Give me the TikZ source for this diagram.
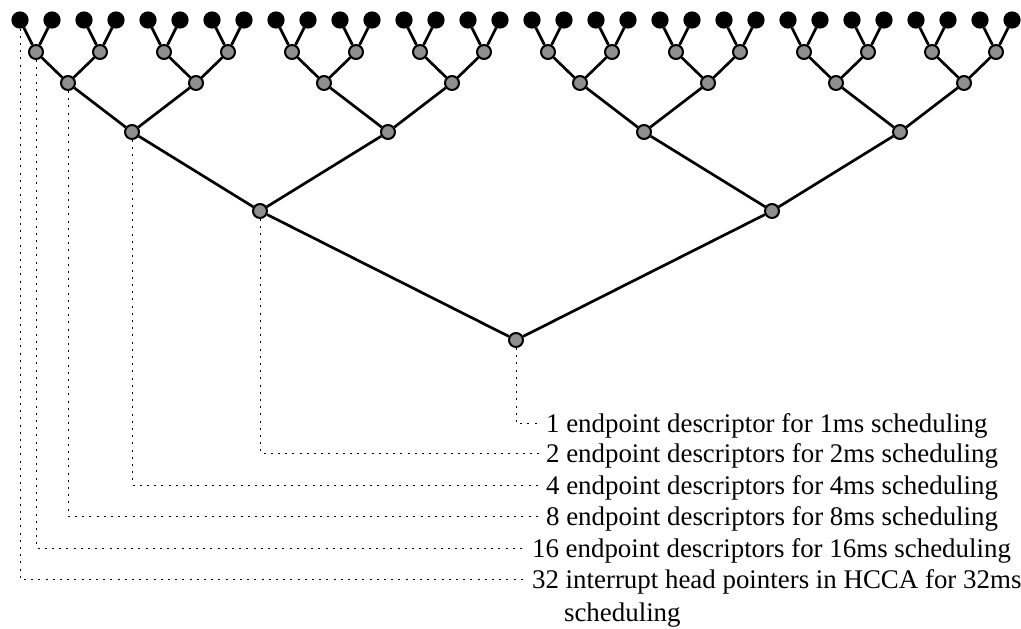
\documentclass[tikz,border=0pt]{standalone}
\usepackage{fontspec}
\setmainfont{Liberation Serif}
\usetikzlibrary{positioning}
\definecolor{nodegray}{gray}{0.56}
\tikzset{
  leafdot/.style={circle,draw=black,fill=black,line width=1pt,minimum size=7.6pt,inner sep=0pt},
  knot/.style={circle,draw=black,fill=nodegray,line width=1pt,minimum size=7pt,inner sep=0pt},
  link/.style={line width=1.35pt},
  guide/.style={line width=0.5pt,dash pattern=on 1pt off 2.6pt},
  note/.style={right,text depth=0pt,font=\fontsize{13.45}{16}\selectfont}
}
\begin{document}
\begin{tikzpicture}[x=0.5pt,y=-0.5pt]
		\useasboundingbox (0,0) rectangle (1021,628);
		% leaves
		\foreach \i in {0,...,31}
		  \node[leafdot] (n0-\i) at (20+32*\i,20) {};
		% inner levels, each joined to its two children
		\foreach \k/\y/\n/\w in {1/52/15/64,2/83/7/128,3/132/3/256,4/211/1/512,5/340/0/1024}{
		  \pgfmathtruncatemacro{\j}{\k-1}
		  \foreach \i in {0,...,\n}{
		    \pgfmathtruncatemacro{\a}{2*\i}
		    \pgfmathtruncatemacro{\b}{2*\i+1}
		    \node[knot] (n\k-\i) at (\w*\i+\w/2+4,\y) {};
		    \draw[link] (n\k-\i) -- (n\j-\a);
		    \draw[link] (n\k-\i) -- (n\j-\b);
		  }
		}
%		
		\node[note] (t1) at (539,423) {1 endpoint descriptor for 1ms scheduling};
		\node[note] (t2) at (539,453) {2 endpoint descriptors for 2ms scheduling};
		\node[note] (t3) at (539,485) {4 endpoint descriptors for 4ms scheduling};
		\node[note] (t4) at (539,516) {8 endpoint descriptors for 8ms scheduling};
		\node[note] (t5) at (525,548) {16 endpoint descriptors for 16ms scheduling};
		\node[note] (t6) at (525,579) {32 interrupt head pointers in HCCA for 32ms};
		\node[note] (t7) at (557,612) {scheduling};
		\draw[guide] (n5-0.south) |- (t1.west);
		\draw[guide] (n4-0.south) |- (t2.west);
		\draw[guide] (n3-0.south) |- (t3.west);
		\draw[guide] (n2-0.south) |- (t4.west);
		\draw[guide] (n1-0.south) |- (t5.west);
		\draw[guide] (n0-0.south) |- (t6.west);
\end{tikzpicture}
\end{document}
